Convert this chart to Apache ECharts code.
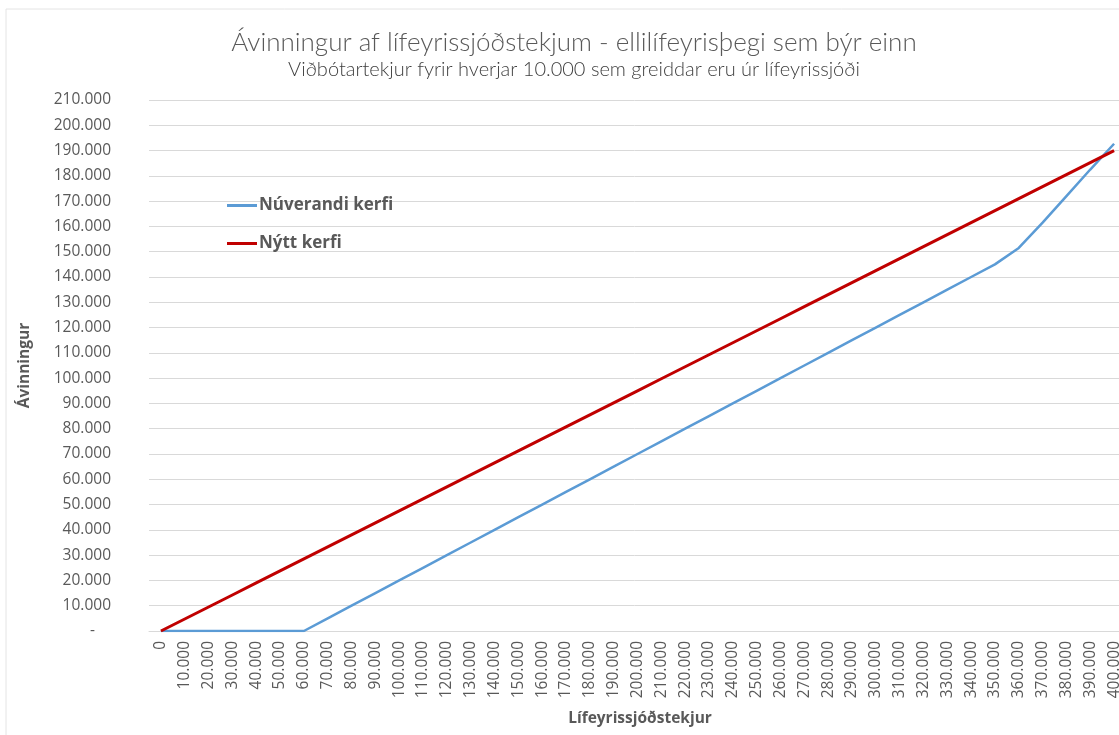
<!DOCTYPE html>
<html>
<head>
<meta charset="utf-8">
<script src="https://cdn.jsdelivr.net/npm/echarts@6/dist/echarts.min.js"></script>
<style>
  html, body { margin: 0; padding: 0; background: #fff; }
  #chart { width: 1119px; height: 735px; }
</style>
</head>
<body>
<div id="chart"></div>
<script>
// x categories: lífeyrissjóðstekjur
var tekjur = [0, 10000, 20000, 30000, 40000, 50000, 60000, 70000, 80000, 90000,
  100000, 110000, 120000, 130000, 140000, 150000, 160000, 170000, 180000, 190000,
  200000, 210000, 220000, 230000, 240000, 250000, 260000, 270000, 280000, 290000,
  300000, 310000, 320000, 330000, 340000, 350000, 360000, 370000, 380000, 390000, 400000];

var nuverandi = [0, 0, 0, 0, 0, 0, 0, 5000, 10000, 15000,
  20000, 25000, 30000, 35000, 40000, 45000, 50000, 55000, 60000, 65000,
  70000, 75000, 80000, 85000, 90000, 95000, 100000, 105000, 110000, 115000,
  120000, 125000, 130000, 135000, 140000, 145000, 151500, 161500, 172000, 182500, 192700];

var nytt = [0, 4750, 9500, 14250, 19000, 23750, 28500, 33250, 38000, 42750,
  47500, 52250, 57000, 61750, 66500, 71250, 76000, 80750, 85500, 90250,
  95000, 99750, 104500, 109250, 114000, 118750, 123500, 128250, 133000, 137750,
  142500, 147250, 152000, 156750, 161500, 166250, 171000, 175750, 180500, 185250, 190000];

var seriesNames = ['Núverandi kerfi', 'Nýtt kerfi'];
var xTitle = 'Lífeyrissjóðstekjur';
var yTitle = 'Ávinningur';

function fmt(v) {
  return String(v).replace(/\B(?=(\d{3})+(?!\d))/g, '.');
}

var txt = '#595959';
var font = 'Open Sans';

var chart = echarts.init(document.getElementById('chart'));
chart.setOption({
  animation: false,
  backgroundColor: '#fff',
  textStyle: { fontFamily: font },
  graphic: [{
    type: 'rect',
    shape: { x: 6, y: 9, width: 1300, height: 900 },
    style: { fill: 'none', stroke: '#e4e4e4', lineWidth: 1 },
    silent: true
  }, {
    // x axis title (drawn as text so it keeps its size past the grid edge)
    type: 'text',
    x: 640,
    y: 719,
    style: {
      text: xTitle,
      fontFamily: font,
      fontSize: 15.5,
      fontWeight: 'bold',
      fill: txt,
      align: 'center',
      verticalAlign: 'middle'
    },
    silent: true
  }],
  title: {
    text: 'Ávinningur af lífeyrissjóðstekjum - ellilífeyrisþegi sem býr einn',
    subtext: 'Viðbótartekjur fyrir hverjar 10.000 sem greiddar eru úr lífeyrissjóði',
    left: 569,
    top: 25,
    textAlign: 'center',
    itemGap: 4,
    textStyle: { fontFamily: 'Lato', fontSize: 26, fontWeight: 300, color: txt },
    subtextStyle: { fontFamily: 'Lato', fontSize: 20, fontWeight: 300, color: '#404040' }
  },
  legend: {
    data: seriesNames,
    orient: 'vertical',
    left: 222,
    top: 192,
    itemGap: 21,
    itemWidth: 30,
    itemHeight: 3,
    icon: 'rect',
    textStyle: { fontFamily: font, fontSize: 17, fontWeight: 'bold', color: txt, padding: [0, 0, 0, -3] }
  },
  grid: { left: 149, width: 977, top: 100, bottom: 104, outerBoundsMode: 'none', containLabel: false },
  xAxis: {
    type: 'category',
    data: tekjur,
    boundaryGap: true,
    axisLine: { lineStyle: { color: '#d9d9d9' } },
    axisTick: { show: false },
    axisLabel: {
      interval: 0,
      rotate: 90,
      margin: 10,
      fontSize: 15.5,
      color: txt,
      formatter: function (v) { return fmt(v); }
    }
  },
  yAxis: {
    type: 'value',
    min: 0,
    max: 210000,
    interval: 10000,
    name: yTitle,
    nameLocation: 'middle',
    nameGap: 116,
    nameRotate: 90,
    nameTextStyle: { fontFamily: font, fontSize: 15.5, fontWeight: 'bold', color: txt },
    axisLine: { show: false },
    axisTick: { show: false },
    splitLine: { lineStyle: { color: '#d9d9d9' } },
    axisLabel: {
      margin: 38,
      fontSize: 15.5,
      color: txt,
      formatter: function (v) { return v === 0 ? '-    ' : fmt(v); }
    }
  },
  series: [
    {
      name: seriesNames[0],
      type: 'line',
      data: nuverandi,
      symbol: 'none',
      lineStyle: { color: '#5b9bd5', width: 2.5 },
      itemStyle: { color: '#5b9bd5' },
      z: 2
    },
    {
      name: seriesNames[1],
      type: 'line',
      data: nytt,
      symbol: 'none',
      lineStyle: { color: '#c00000', width: 3 },
      itemStyle: { color: '#c00000' },
      z: 3
    }
  ]
});
</script>
</body>
</html>
